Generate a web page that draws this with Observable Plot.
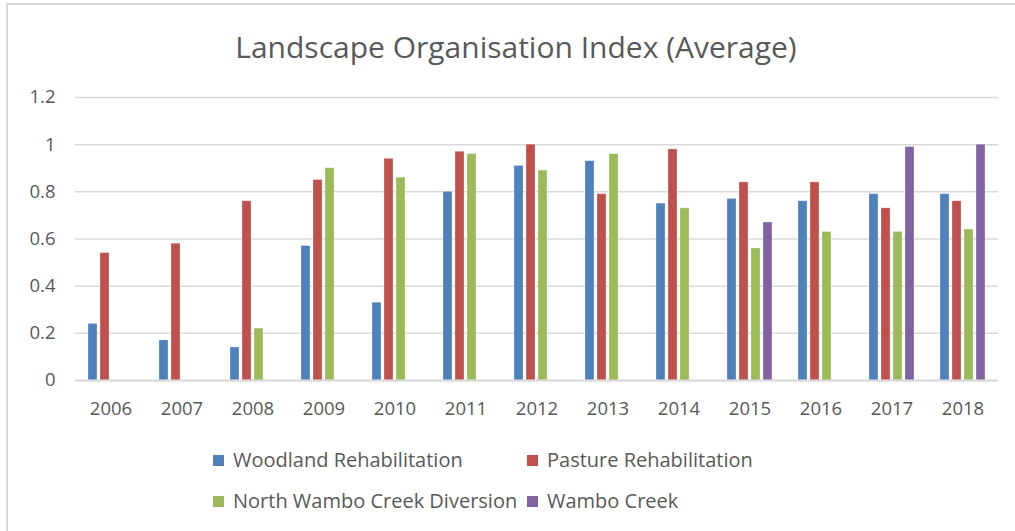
<!DOCTYPE html>
<html>
<head>
<meta charset="utf-8">
<script src="https://cdn.jsdelivr.net/npm/d3@7"></script>
<script src="https://cdn.jsdelivr.net/npm/@observablehq/plot@0.6"></script>
<style>
  html, body { margin: 0; padding: 0; background: #fff; overflow: hidden; }
  #wrap { position: relative; width: 1015px; height: 531px; overflow: hidden; font-family: "Open Sans", sans-serif; color: #595959; }
  #frame { position: absolute; left: 6px; top: 3px; width: 1030px; height: 560px; border: 2px solid #d9d9d9; box-sizing: border-box; }
  #title { position: absolute; left: 0; width: 1032px; top: 26px; text-align: center; font-size: 30px; line-height: 42px; white-space: nowrap; }
  #chart { position: absolute; left: 0; top: 80px; }
  .leg { position: absolute; display: flex; align-items: center; font-size: 20px; white-space: nowrap; line-height: 28px; }
  .sw { width: 11px; height: 11px; margin-right: 9px; }
</style>
</head>
<body>
<div id="wrap">
  <div id="frame"></div>
  <div id="title">Landscape Organisation Index (Average)</div>
  <div id="chart"></div>
  <div id="legend"></div>
</div>
<script>
const years = ["2006","2007","2008","2009","2010","2011","2012","2013","2014","2015","2016","2017","2018"];
const seriesNames = ["Woodland Rehabilitation", "Pasture Rehabilitation", "North Wambo Creek Diversion", "Wambo Creek"];
const seriesColors = ["#4f81bd", "#c0504d", "#9bbb59", "#8064a2"];
const woodland = [0.24, 0.17, 0.14, 0.57, 0.33, 0.80, 0.91, 0.93, 0.75, 0.77, 0.76, 0.79, 0.79];
const pasture  = [0.54, 0.58, 0.76, 0.85, 0.94, 0.97, 1.00, 0.79, 0.98, 0.84, 0.84, 0.73, 0.76];
const northWambo = [null, null, 0.22, 0.90, 0.86, 0.96, 0.89, 0.96, 0.73, 0.56, 0.63, 0.63, 0.64];
const wambo = [null, null, null, null, null, null, null, null, null, 0.67, null, 0.99, 1.00];
const yTicks = [0, 0.2, 0.4, 0.6, 0.8, 1, 1.2];

const seriesValues = [woodland, pasture, northWambo, wambo];
const data = [];
years.forEach((y, i) => {
  seriesNames.forEach((s, j) => {
    const v = seriesValues[j][i];
    if (v != null) data.push({year: y, series: s, value: v});
  });
});

const chart = Plot.plot({
  width: 1015,
  height: 350,
  marginLeft: 72,
  marginRight: 14,
  marginTop: 17,
  marginBottom: 50,
  style: {fontFamily: "'Open Sans', sans-serif", fontSize: "18.5px", color: "#595959", background: "transparent"},
  fx: {domain: years, padding: 0, axis: "bottom", tickSize: 0, tickPadding: 21, label: null},
  x: {domain: seriesNames, paddingInner: 0.23, paddingOuter: 0.86, axis: null},
  y: {domain: [0, 1.2], ticks: yTicks, tickFormat: d => String(+d.toFixed(1)), tickSize: 0, tickPadding: 20, label: null},
  color: {domain: seriesNames, range: seriesColors},
  marks: [
    Plot.gridY(yTicks, {stroke: "#d9d9d9", strokeOpacity: 1, strokeWidth: 1.5}),
    Plot.barY(data, {fx: "year", x: "series", y: "value", fill: "series", stroke: "#ffffff", strokeOpacity: 0.35, strokeWidth: 0.8}),
    Plot.ruleY([0], {stroke: "#d9d9d9", strokeWidth: 2})
  ]
});
document.getElementById("chart").appendChild(chart);

const legendPos = [[213, 460], [527, 460], [213, 501], [527, 501]];
const legend = document.getElementById("legend");
seriesNames.forEach((s, i) => {
  const d = document.createElement("div");
  d.className = "leg";
  d.style.left = legendPos[i][0] + "px";
  d.style.top = (legendPos[i][1] - 14) + "px";
  const sw = document.createElement("div");
  sw.className = "sw";
  sw.style.background = seriesColors[i];
  const t = document.createElement("span");
  t.textContent = s;
  d.appendChild(sw);
  d.appendChild(t);
  legend.appendChild(d);
});
</script>
</body>
</html>
